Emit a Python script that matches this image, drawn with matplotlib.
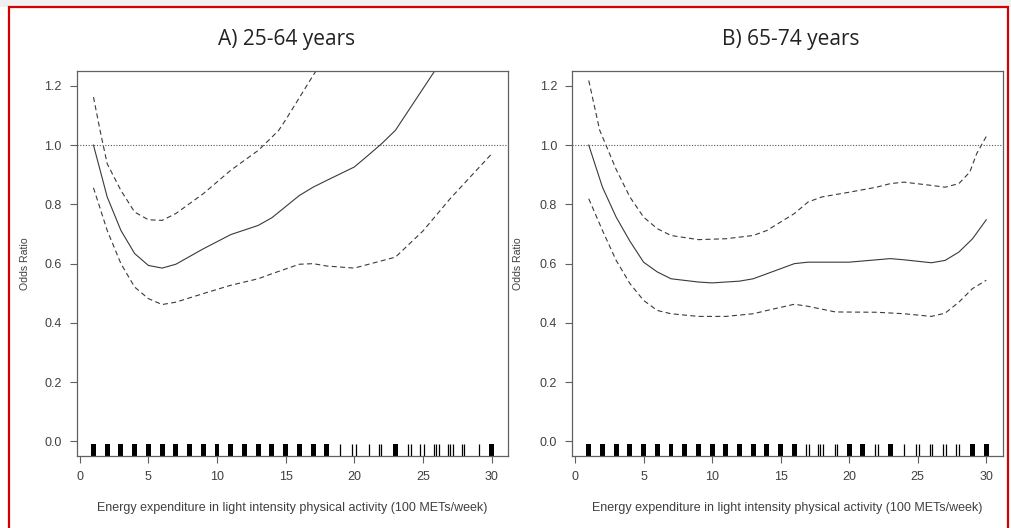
import numpy as np
import matplotlib as mpl
mpl.use("Agg")
import matplotlib.pyplot as plt
import matplotlib.patches as patches
import matplotlib.transforms as mtransforms

mpl.rcParams['font.family'] = 'sans-serif'
mpl.rcParams['font.sans-serif'] = ['Liberation Sans', 'DejaVu Sans']
mpl.rcParams['font.size'] = 9

# ---- data ----
titles = ["A) 25-64 years", "B) 65-74 years"]
xlabel = "Energy expenditure in light intensity physical activity (100 METs/week)"
ylabel = "Odds Ratio"

# panel A
a_fit_x = [1, 2, 3, 4, 5, 6, 7, 9, 11, 13, 14, 16, 17, 18, 20, 21, 22, 23, 24, 25, 26, 27]
a_fit_y = [1.0, 0.825, 0.712, 0.634, 0.594, 0.585, 0.598, 0.65, 0.698, 0.729, 0.755,
           0.83, 0.858, 0.881, 0.926, 0.965, 1.005, 1.05, 1.12, 1.19, 1.26, 1.33]
a_up_x = [1, 1.5, 2, 3, 4, 5, 6, 7, 9, 11, 13, 14, 14.5, 15, 16, 17, 17.5]
a_up_y = [1.162, 1.045, 0.937, 0.847, 0.774, 0.748, 0.746, 0.769, 0.836, 0.915, 0.982,
          1.027, 1.05, 1.085, 1.16, 1.235, 1.27]
a_lo_x = [1, 2, 3, 4, 5, 6, 7, 9, 11, 13, 14, 16, 17, 18, 20, 23, 25, 27, 30]
a_lo_y = [0.856, 0.712, 0.6, 0.521, 0.482, 0.462, 0.47, 0.499, 0.527, 0.549, 0.566,
          0.598, 0.6, 0.592, 0.585, 0.622, 0.71, 0.82, 0.97]
a_rug_dense = [1, 2, 3, 4, 5, 6, 7, 8, 9, 10, 11, 12, 13, 14, 15, 16, 17, 18, 23, 30]
a_rug_single = [18.94, 19.85, 20.1, 21.07, 21.8, 21.97, 23.9, 24.1, 24.8, 25.05, 25.8,
                25.98, 26.17, 26.8, 27.0, 27.2, 27.85, 28.0, 29.1]

# panel B
b_fit_x = [1, 2, 3, 4, 5, 6, 7, 9, 10, 12, 13, 14, 16, 17, 20, 23, 24, 26, 27, 28, 29, 30]
b_fit_y = [1.0, 0.858, 0.757, 0.676, 0.605, 0.572, 0.549, 0.538, 0.535, 0.541, 0.549,
           0.566, 0.6, 0.605, 0.605, 0.617, 0.613, 0.603, 0.611, 0.639, 0.684, 0.748]
b_up_x = [1, 1.8, 3, 4, 5, 6, 7, 9, 11, 13, 14, 16, 17, 18, 20, 22, 23, 24, 26, 27, 28,
          28.8, 29.3, 30]
b_up_y = [1.218, 1.05, 0.918, 0.825, 0.757, 0.718, 0.695, 0.681, 0.684, 0.695, 0.712,
          0.769, 0.808, 0.825, 0.841, 0.858, 0.87, 0.875, 0.864, 0.858, 0.87, 0.909,
          0.971, 1.029]
b_lo_x = [1, 2, 3, 4, 5, 6, 7, 9, 11, 13, 14, 16, 17, 19, 22, 24, 26, 27, 28, 29, 30]
b_lo_y = [0.819, 0.712, 0.611, 0.533, 0.476, 0.442, 0.431, 0.422, 0.422, 0.431, 0.442,
          0.463, 0.456, 0.437, 0.436, 0.431, 0.422, 0.433, 0.47, 0.516, 0.544]
b_rug_dense = [1, 2, 3, 4, 5, 6, 7, 8, 9, 10, 11, 12, 13, 14, 15, 16, 20, 21, 23, 29, 30]
b_rug_single = [16.87, 17.1, 17.72, 17.9, 18.08, 18.94, 19.13, 21.9, 22.1, 23.98, 24.9,
                25.1, 25.86, 26.05, 26.87, 27.07, 27.8, 28.04]

xticks = [0, 5, 10, 15, 20, 25, 30]
yticks = [0.0, 0.2, 0.4, 0.6, 0.8, 1.0, 1.2]

panels = [
    (a_fit_x, a_fit_y, a_up_x, a_up_y, a_lo_x, a_lo_y, a_rug_dense, a_rug_single),
    (b_fit_x, b_fit_y, b_up_x, b_up_y, b_lo_x, b_lo_y, b_rug_dense, b_rug_single),
]

W, H = 1012, 528
fig = plt.figure(figsize=(W / 100, H / 100), dpi=100)
fig.patch.set_facecolor('white')

# light grey strip + red frame of the screenshot
fig.add_artist(patches.Rectangle((0, 1 - 7 / H), 1, 7 / H, transform=fig.transFigure,
                                 facecolor='#f0f0f0', edgecolor='none', zorder=-5))
fig.add_artist(patches.Rectangle((9.5 / W, -0.05), (1008 - 9.5) / W, 1 + 0.05 - 7.5 / H,
                                 transform=fig.transFigure, facecolor='none',
                                 edgecolor='#d40000', linewidth=1.6, zorder=10))

axes_px = [(77, 508), (572.3, 1002.7)]
ylabel_px = [25, 518]
title_x = [287, 791]
box_col = '#606060'
line_col = '#3a3a3a'

for i, (ax_px, data) in enumerate(zip(axes_px, panels)):
    fx, fy, ux, uy, lx, ly, rug_d, rug_s = data
    left = ax_px[0] / W
    wpx = ax_px[1] - ax_px[0]
    ax = fig.add_axes([left, 72 / H, wpx / W, (457 - 72) / H])

    ax.plot(fx, fy, color=line_col, lw=0.8)
    ax.plot(ux, uy, color=line_col, lw=0.8, dashes=(4.5, 3))
    ax.plot(lx, ly, color=line_col, lw=0.8, dashes=(4.5, 3))
    ax.axhline(1.0, color='#555555', lw=0.8, linestyle=(0, (1, 1.5)))

    # rug along the bottom
    trans = mtransforms.blended_transform_factory(ax.transData, ax.transAxes)
    ax.bar(rug_d, 0.03, width=0.36, bottom=0, color='black', transform=trans,
           linewidth=0)
    ax.vlines(rug_s, 0, 0.03, color='black', lw=0.9, transform=trans)

    ax.set_xlim(-0.2, 31.2)
    ax.set_ylim(-0.049, 1.25)
    ax.set_xticks(xticks)
    ax.set_yticks(yticks)
    ax.set_yticklabels([f"{v:.1f}" for v in yticks])
    for sp in ax.spines.values():
        sp.set_color(box_col)
        sp.set_linewidth(0.9)
    ax.tick_params(direction='out', length=5, width=0.8, color=box_col,
                   labelcolor='#404040', labelsize=9)
    ax.tick_params(axis='y', pad=6)
    ax.tick_params(axis='x', pad=6)

    ax.set_xlabel(xlabel, color='#404040', fontsize=9)
    ax.xaxis.set_label_coords(0.5, -0.135)
    ax.xaxis.label.set_va('center')
    ax.set_ylabel(ylabel, color='#404040', fontsize=7.6)
    ax.yaxis.set_label_coords((ylabel_px[i] - ax_px[0]) / wpx, 0.5)
    ax.yaxis.label.set_va('center')

    fig.text(title_x[i] / W, 1 - 40 / H, titles[i], ha='center', va='center',
             fontsize=15, family='Open Sans', color='#222222')

fig.savefig("out.png", dpi=100)
plt.close('all')
